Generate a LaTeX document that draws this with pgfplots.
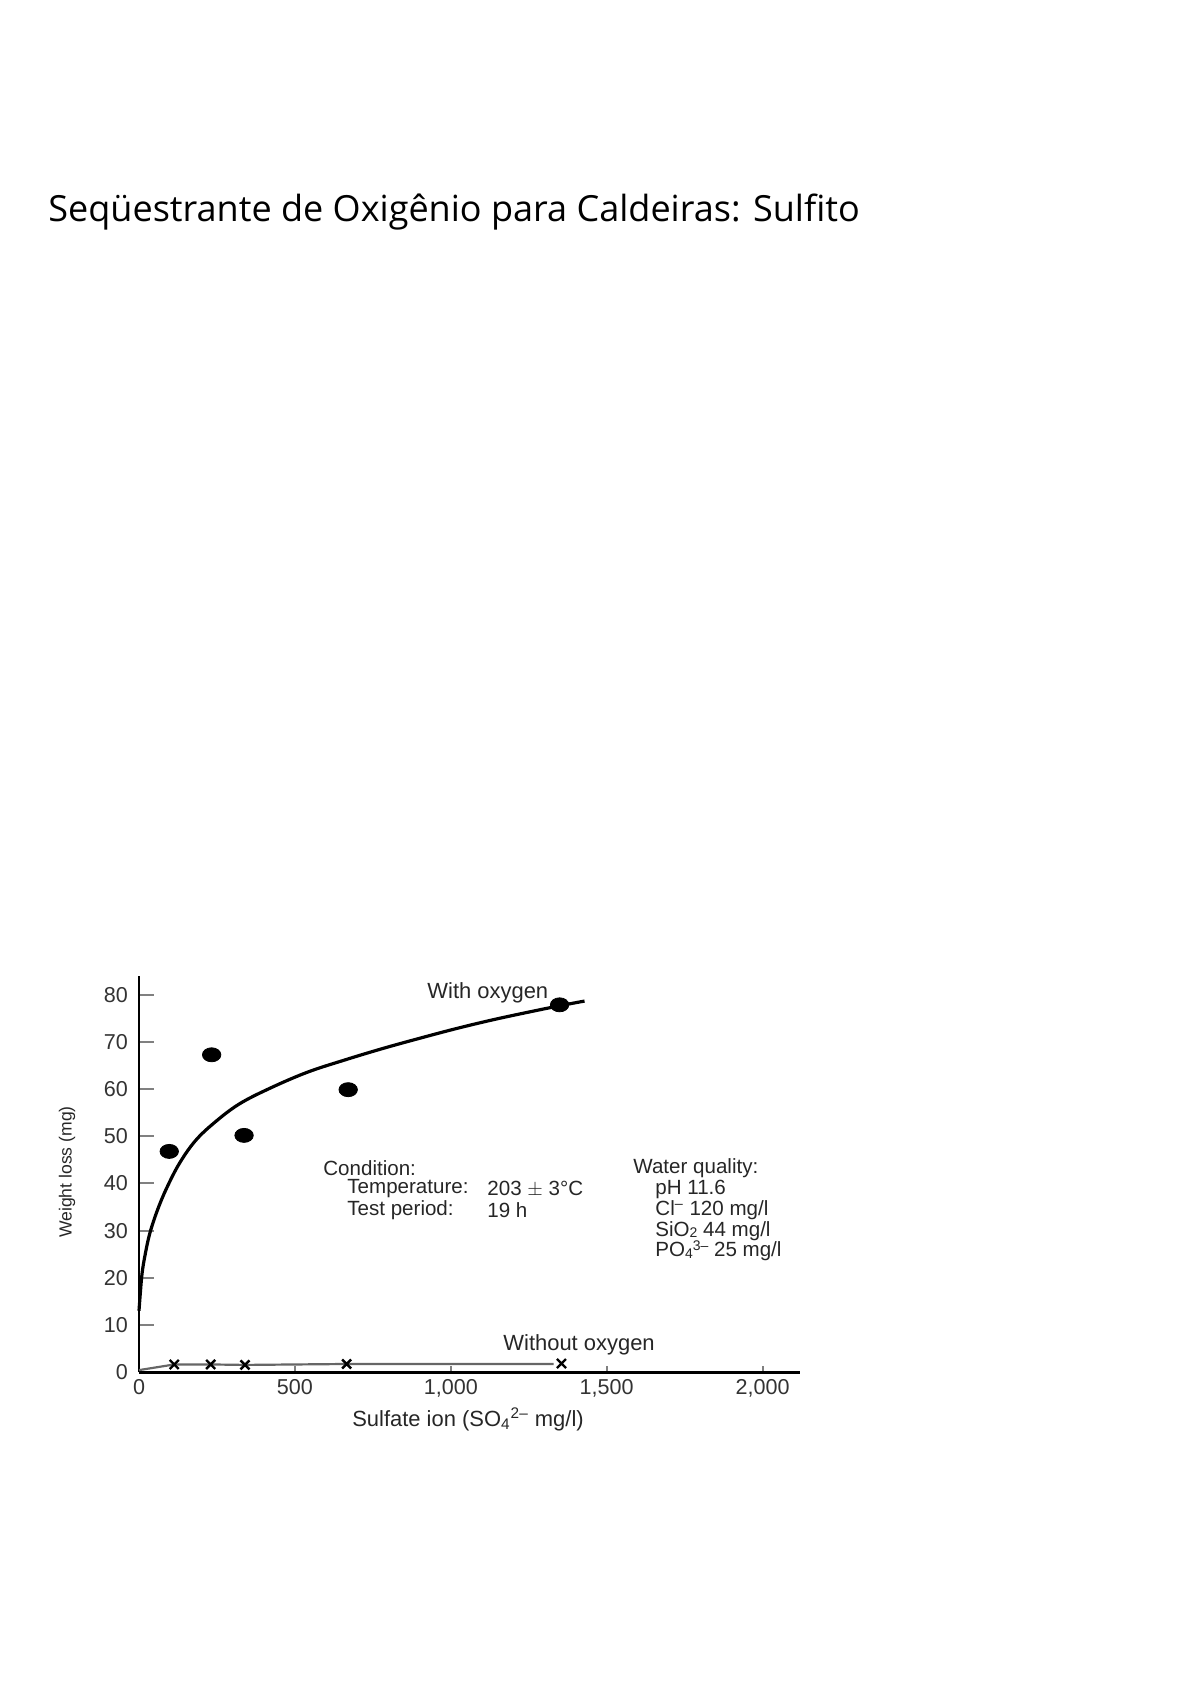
\documentclass[border=0pt]{standalone}
\usepackage{pgfplots}
\pgfplotsset{compat=1.18}
\usepackage{fontspec}
\setmainfont{Liberation Sans}
\newfontfamily\titlefont{Open Sans}
\begin{document}
\begin{tikzpicture}[x=0.50108pt,y=-0.50108pt]
\path[use as bounding box] (0,0) rectangle (1188,1682);
\node[anchor=base west,inner sep=0pt,font=\titlefont\fontsize{18.05}{22}\selectfont] at (48,222) {Seqüestrante de Oxigênio para Caldeiras: Sulfito};
\begin{axis}[
  at={(69.65pt,-687.48pt)}, anchor=south west,
  scale only axis, width=331.2pt, height=198.4pt,
  xmin=0, xmax=2120, ymin=0, ymax=84,
  axis lines=left,
  axis line style={-},
  x axis line style={line width=1.5pt},
  y axis line style={line width=1pt},
  xtick={0,500,1000,1500,2000},
  ytick={0,10,...,80},
  tick align=inside,
  xtick style={line width=1pt,/pgfplots/major tick length=3pt},
  ytick style={line width=1pt,/pgfplots/major tick length=7.5pt},
  ticklabel style={font=\fontsize{10.8}{12}\selectfont, text=black!80},
  yticklabel style={xshift=-2pt},
  /pgf/number format/assume math mode=true,
  /pgf/number format/1000 sep={,},
  clip=false,
]
\addplot[black, line width=1.6pt, smooth, tension=0.6] coordinates {
(0,13) (4,16.5) (10,21) (20,25) (35,29.5) (60,34.5) (90,39.2) (130,44.3) (180,49.0) (240,52.8) (320,56.8) (420,60.2) (540,63.6) (660,66.2) (780,68.6) (900,70.8) (1020,72.9) (1140,74.8) (1260,76.5) (1349,77.7) (1429,78.7)
};
\addplot[only marks, mark=*, mark size=3.7pt, mark options={fill=black, xscale=1.25, yscale=0.95}] coordinates {
(97,46.8) (233,67.3) (337,50.2) (671,59.9) (1349,77.9)
};
\addplot[black!60, line width=1.1pt] coordinates {
(0,0.4) (113,1.6) (230,1.6) (340,1.5) (666,1.7) (1330,1.7)
};
\addplot[only marks, mark=x, mark size=3.2pt, mark options={black, line width=1.2pt}] coordinates {
(113,1.6) (230,1.6) (340,1.5) (666,1.7) (1355,1.8)
};
\end{axis}
\begin{scope}[every node/.style={inner sep=0pt, text=black!85, font=\fontsize{11}{12}\selectfont}]
\node[anchor=west] at (427,993) {With oxygen};
\node[anchor=west] at (503,1345) {Without oxygen};
\end{scope}
\begin{scope}[every node/.style={inner sep=0pt, text=black!85, font=\fontsize{10.3}{11}\selectfont}]
\node[anchor=west] at (323,1168) {Condition:};
\node[anchor=west] at (347,1189) {Temperature:};
\node[anchor=west] at (487,1189) {203 $\pm$ 3\textdegree C};
\node[anchor=west] at (347,1210) {Test period:};
\node[anchor=west] at (487,1210) {19 h};
\node[anchor=west] at (633,1168) {Water quality:};
\node[anchor=west] at (655,1189) {pH 11.6};
\node[anchor=west] at (655,1210) {Cl\textsuperscript{--} 120 mg/l};
\node[anchor=west] at (655,1231) {SiO{\fontsize{7}{8}\selectfont\raisebox{-0.2ex}{2}} 44 mg/l};
\node[anchor=west] at (655,1251) {PO{\fontsize{7}{8}\selectfont\raisebox{-0.2ex}{4}\raisebox{0.8ex}{3--}} 25 mg/l};
\end{scope}
\begin{scope}[every node/.style={inner sep=0pt, text=black!85, font=\fontsize{11}{12}\selectfont}]
\node[anchor=center] at (468,1419) {Sulfate ion (SO\textsubscript{4}\textsuperscript{2--} mg/l)};
\node[anchor=center, rotate=90, font=\fontsize{8.8}{10}\selectfont] at (67,1172) {Weight loss (mg)};
\end{scope}
\end{tikzpicture}
\end{document}
